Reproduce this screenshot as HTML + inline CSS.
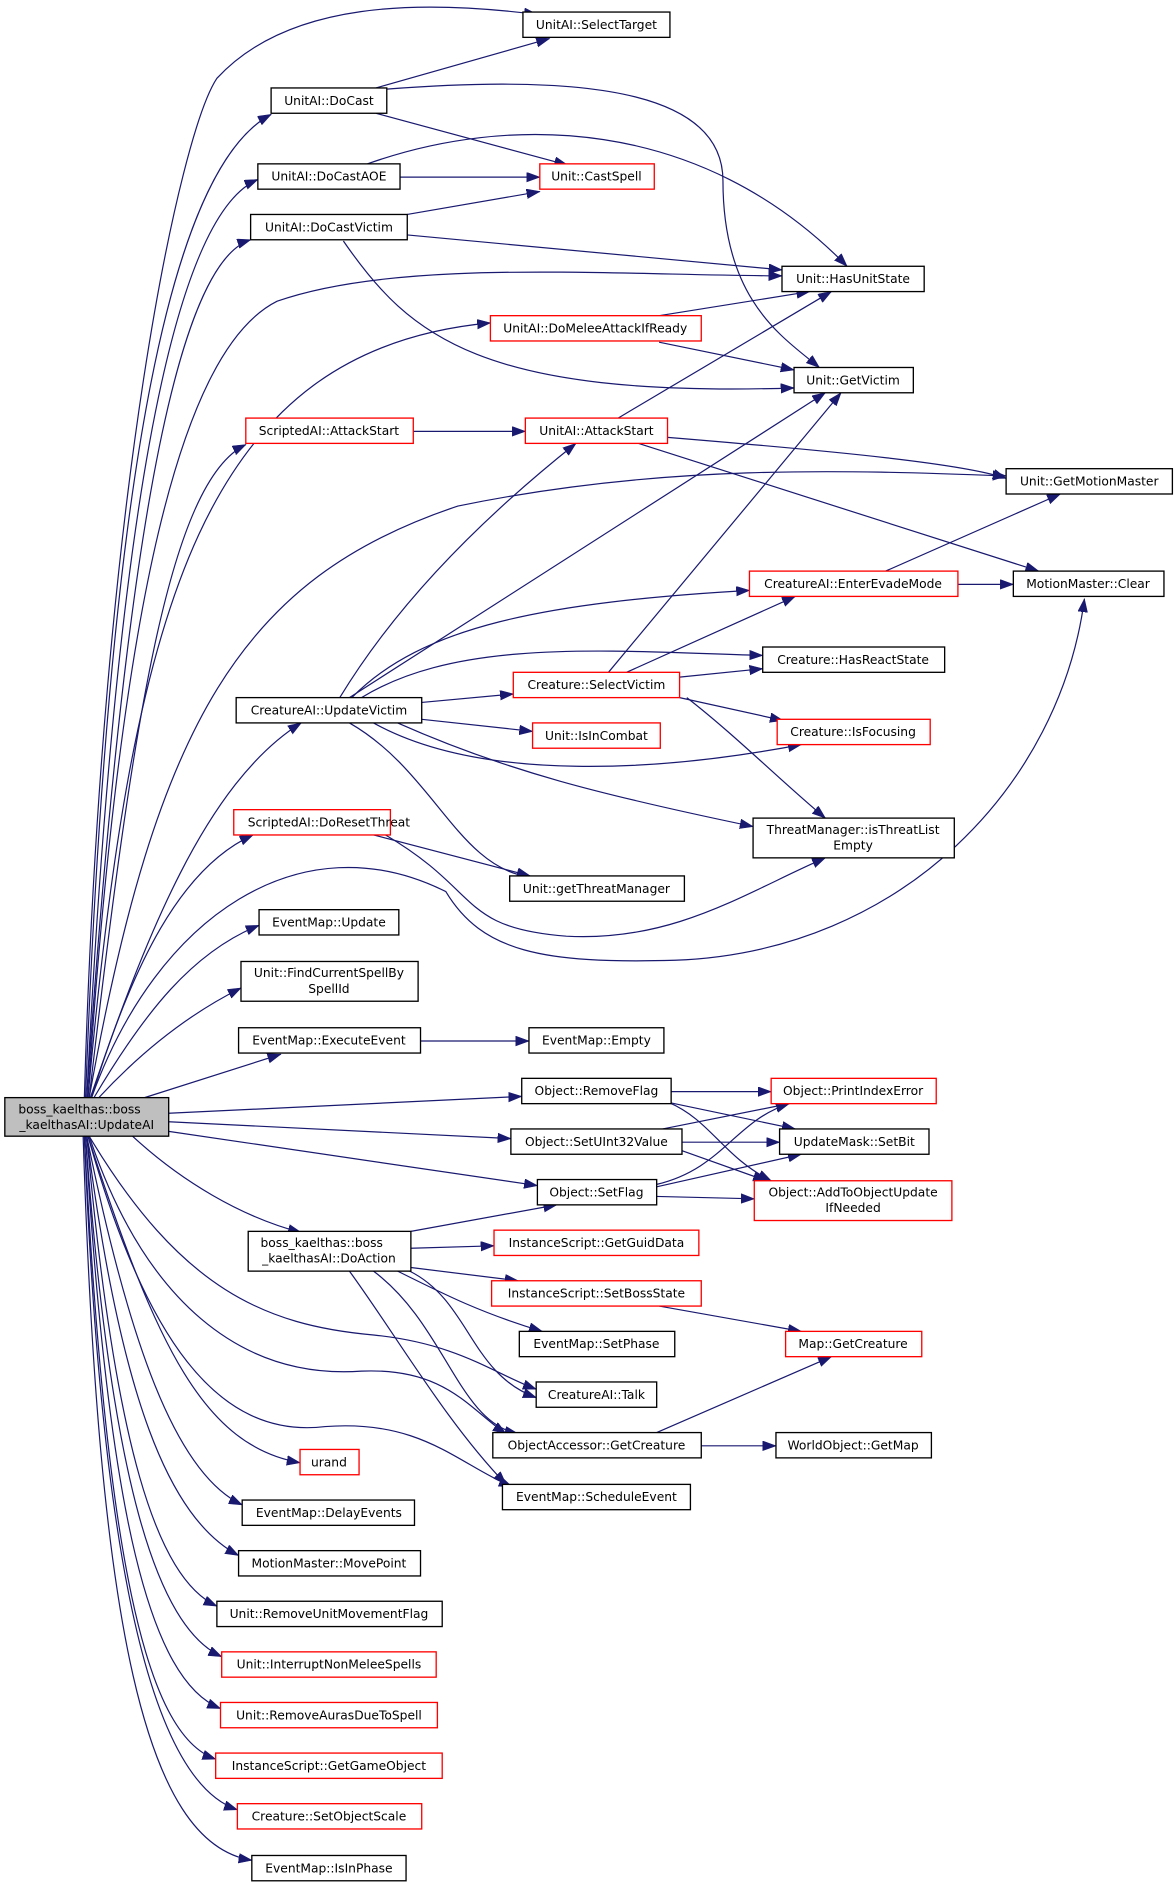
<!DOCTYPE html>
<html><head><meta charset="utf-8"><style>
html,body{margin:0;padding:0;background:#fff;}
svg{display:block;}
text{font-family:"DejaVu Sans","Liberation Sans",sans-serif;font-size:10.2px;fill:#000;text-anchor:middle;}
.n{fill:#fff;stroke:#000;stroke-width:1.1;}
.r{fill:#fff;stroke:#ff0000;stroke-width:1.1;}
.g{fill:#bfbfbf;stroke:#000;stroke-width:1.1;}
path{fill:none;stroke:#191970;stroke-width:1;marker-end:url(#a);}
</style></head><body>
<svg width="1176" height="1885" viewBox="0 0 976 1564.5" preserveAspectRatio="none" xmlns="http://www.w3.org/2000/svg">
<defs><marker id="a" markerUnits="userSpaceOnUse" markerWidth="12" markerHeight="10" refX="11" refY="4" orient="auto"><path d="M0,0 L11,4 L0,8 Z" style="fill:#191970;stroke:#191970;stroke-width:0.5;marker-end:none"/></marker></defs>

<!-- edges from UpdateAI -->
<path d="M70,911 C 85,400 150,110 180,65 C 240,0 350,0 446,12"/>
<path d="M71,911 C 90,400 140,140 225,95"/>
<path d="M72,911 C 95,450 140,180 214,149"/>
<path d="M72,911 C 100,500 140,220 208,199"/>
<path d="M73,911 C 100,500 150,290 230,250 C 330,215 500,228 649,229"/>
<path d="M73,911 C 110,500 170,290 407,268"/>
<path d="M74,911 C 110,600 140,400 204,369"/>
<path d="M74,911 C 130,600 200,480 380,420 C 550,385 700,390 835,395"/>
<path d="M75,911 C 120,780 170,650 250,600"/>
<path d="M76,911 C 110,800 150,720 210,693"/>
<path d="M76,911 C 130,760 250,680 370,740 C 400,790 450,800 560,797 C 750,790 880,650 900,497"/>
<path d="M78,911 C 120,840 160,790 215,768"/>
<path d="M82,911 C 120,870 160,840 200,820"/>
<path d="M120,911 L233,875"/>
<path d="M140,924 L433,910"/>
<path d="M140,931 L424,945"/>
<path d="M140,939 L446,984"/>
<path d="M110,943 C 150,980 200,1010 250,1023"/>
<path d="M74,943 C 150,1070 220,1100 310,1108 C 380,1115 410,1140 445,1153"/>
<path d="M74,943 C 120,1080 200,1145 300,1138 C 370,1135 390,1170 420,1190"/>
<path d="M73,943 C 130,1120 170,1200 249,1214"/>
<path d="M73,943 C 120,1110 180,1195 270,1184 C 350,1178 380,1215 425,1234"/>
<path d="M72,943 C 110,1130 150,1225 201,1249"/>
<path d="M72,943 C 100,1160 140,1260 198,1291"/>
<path d="M72,943 C 95,1200 130,1310 180,1333"/>
<path d="M71,943 C 92,1230 130,1350 184,1375"/>
<path d="M71,943 C 90,1260 125,1395 183,1418"/>
<path d="M70,943 C 88,1290 120,1440 179,1460"/>
<path d="M70,943 C 85,1320 130,1480 197,1502"/>
<path d="M69,943 C 82,1350 120,1530 209,1544"/>

<!-- other edges -->
<path d="M312,73 L456,32"/>
<path d="M312,94 L471,137"/>
<path d="M321,74 C 500,60 600,80 600,150 C 600,250 650,280 680,305"/>
<path d="M332,147 L448,147"/>
<path d="M305,136 C 420,95 580,95 703,221"/>
<path d="M338,178 L448,159"/>
<path d="M338,195 L649,224"/>
<path d="M285,200 C 340,280 400,330 659,322"/>
<path d="M547,262 L672,242"/>
<path d="M547,284 L659,307"/>
<path d="M343,358 L436,358"/>
<path d="M513,347 L690,242"/>
<path d="M554,363 C 700,375 800,385 835,397"/>
<path d="M530,368 L862,474"/>
<path d="M282,579 C 330,500 400,430 478,368"/>
<path d="M290,579 L685,326"/>
<path d="M292,579 C 350,520 450,500 622,490"/>
<path d="M300,579 C 380,530 500,540 633,544"/>
<path d="M350,583 L426,576"/>
<path d="M350,597 L442,607"/>
<path d="M310,600 C 400,650 550,640 665,618"/>
<path d="M330,600 C 420,640 500,660 625,686"/>
<path d="M290,600 C 360,640 380,720 440,728"/>
<path d="M505,558 L698,326"/>
<path d="M520,558 L660,495"/>
<path d="M564,562 L633,555"/>
<path d="M564,579 L650,598"/>
<path d="M570,579 C 610,610 650,650 685,679"/>
<path d="M735,474 L880,410"/>
<path d="M795,485 L841,485"/>
<path d="M310,693 L440,727"/>
<path d="M320,693 C 400,740 380,770 470,777 C 560,782 620,740 685,712"/>
<path d="M349,864 L439,864"/>
<path d="M557,906 L640,906"/>
<path d="M555,915 L660,937"/>
<path d="M555,915 C 590,930 600,960 640,980"/>
<path d="M550,937 L655,916"/>
<path d="M566,948 L647,948"/>
<path d="M566,955 L636,980"/>
<path d="M545,983 C 600,970 610,930 655,916"/>
<path d="M545,985 L665,958"/>
<path d="M545,993 L626,995"/>
<path d="M341,1022 L462,1000"/>
<path d="M341,1036 L410,1034"/>
<path d="M341,1052 L430,1063"/>
<path d="M330,1055 C 370,1075 400,1090 450,1105"/>
<path d="M340,1055 C 390,1080 390,1140 445,1160"/>
<path d="M310,1055 C 370,1100 380,1180 430,1190"/>
<path d="M290,1055 C 330,1110 370,1180 420,1232"/>
<path d="M547,1084 L665,1105"/>
<path d="M545,1189 L690,1126"/>
<path d="M582,1200 L644,1200"/>

<!-- nodes -->
<rect class="g" x="4" y="911" width="136" height="32"/><text x="66" y="924">boss_kaelthas::boss</text><text x="72" y="937">_kaelthasAI::UpdateAI</text>
<rect class="n" x="434" y="10" width="122" height="21"/><text x="495" y="24">UnitAI::SelectTarget</text>
<rect class="n" x="225" y="73" width="96" height="21"/><text x="273" y="87">UnitAI::DoCast</text>
<rect class="n" x="214" y="136" width="118" height="21"/><text x="273" y="150">UnitAI::DoCastAOE</text>
<rect class="r" x="448" y="136" width="95" height="21"/><text x="495" y="150">Unit::CastSpell</text>
<rect class="n" x="208" y="178" width="130" height="21"/><text x="273" y="192">UnitAI::DoCastVictim</text>
<rect class="n" x="649" y="221" width="118" height="21"/><text x="708" y="235">Unit::HasUnitState</text>
<rect class="r" x="407" y="262" width="175" height="21"/><text x="494" y="276">UnitAI::DoMeleeAttackIfReady</text>
<rect class="n" x="659" y="305" width="99" height="21"/><text x="708" y="319">Unit::GetVictim</text>
<rect class="r" x="204" y="347" width="139" height="21"/><text x="273" y="361">ScriptedAI::AttackStart</text>
<rect class="r" x="436" y="347" width="118" height="21"/><text x="495" y="361">UnitAI::AttackStart</text>
<rect class="n" x="835" y="389" width="138" height="21"/><text x="904" y="403">Unit::GetMotionMaster</text>
<rect class="r" x="622" y="474" width="173" height="21"/><text x="708" y="488">CreatureAI::EnterEvadeMode</text>
<rect class="n" x="841" y="474" width="125" height="21"/><text x="903" y="488">MotionMaster::Clear</text>
<rect class="n" x="633" y="537" width="151" height="21"/><text x="708" y="551">Creature::HasReactState</text>
<rect class="r" x="426" y="558" width="138" height="21"/><text x="495" y="572">Creature::SelectVictim</text>
<rect class="n" x="196" y="579" width="154" height="21"/><text x="273" y="593">CreatureAI::UpdateVictim</text>
<rect class="r" x="442" y="600" width="106" height="21"/><text x="495" y="614">Unit::IsInCombat</text>
<rect class="r" x="645" y="597" width="127" height="21"/><text x="708" y="611">Creature::IsFocusing</text>
<rect class="n" x="625" y="679" width="167" height="33"/><text x="708" y="692">ThreatManager::isThreatList</text><text x="708" y="705">Empty</text>
<rect class="r" x="194" y="672" width="130" height="21"/><text x="273" y="686">ScriptedAI::DoResetThreat</text>
<rect class="n" x="423" y="727" width="145" height="21"/><text x="495" y="741">Unit::getThreatManager</text>
<rect class="n" x="215" y="755" width="116" height="21"/><text x="273" y="769">EventMap::Update</text>
<rect class="n" x="200" y="798" width="147" height="33"/><text x="273" y="811">Unit::FindCurrentSpellBy</text><text x="273" y="824">SpellId</text>
<rect class="n" x="198" y="853" width="151" height="21"/><text x="273" y="867">EventMap::ExecuteEvent</text>
<rect class="n" x="439" y="853" width="112" height="21"/><text x="495" y="867">EventMap::Empty</text>
<rect class="n" x="433" y="895" width="124" height="21"/><text x="495" y="909">Object::RemoveFlag</text>
<rect class="r" x="640" y="895" width="137" height="21"/><text x="708" y="909">Object::PrintIndexError</text>
<rect class="n" x="424" y="937" width="142" height="21"/><text x="495" y="951">Object::SetUInt32Value</text>
<rect class="n" x="647" y="937" width="124" height="21"/><text x="709" y="951">UpdateMask::SetBit</text>
<rect class="n" x="446" y="979" width="99" height="21"/><text x="495" y="993">Object::SetFlag</text>
<rect class="r" x="626" y="980" width="164" height="33"/><text x="708" y="993">Object::AddToObjectUpdate</text><text x="708" y="1006">IfNeeded</text>
<rect class="n" x="206" y="1022" width="135" height="33"/><text x="267" y="1035">boss_kaelthas::boss</text><text x="273" y="1048">_kaelthasAI::DoAction</text>
<rect class="r" x="410" y="1021" width="170" height="21"/><text x="495" y="1035">InstanceScript::GetGuidData</text>
<rect class="r" x="408" y="1063" width="174" height="21"/><text x="495" y="1077">InstanceScript::SetBossState</text>
<rect class="n" x="431" y="1105" width="129" height="21"/><text x="495" y="1119">EventMap::SetPhase</text>
<rect class="r" x="652" y="1105" width="113" height="21"/><text x="708" y="1119">Map::GetCreature</text>
<rect class="n" x="445" y="1147" width="100" height="21"/><text x="495" y="1161">CreatureAI::Talk</text>
<rect class="n" x="409" y="1189" width="173" height="21"/><text x="495" y="1203">ObjectAccessor::GetCreature</text>
<rect class="n" x="644" y="1189" width="129" height="21"/><text x="708" y="1203">WorldObject::GetMap</text>
<rect class="r" x="249" y="1203" width="49" height="21"/><text x="273" y="1217">urand</text>
<rect class="n" x="417" y="1232" width="156" height="21"/><text x="495" y="1246">EventMap::ScheduleEvent</text>
<rect class="n" x="201" y="1245" width="143" height="21"/><text x="273" y="1259">EventMap::DelayEvents</text>
<rect class="n" x="198" y="1287" width="151" height="21"/><text x="273" y="1301">MotionMaster::MovePoint</text>
<rect class="n" x="180" y="1329" width="187" height="21"/><text x="273" y="1343">Unit::RemoveUnitMovementFlag</text>
<rect class="r" x="184" y="1371" width="178" height="21"/><text x="273" y="1385">Unit::InterruptNonMeleeSpells</text>
<rect class="r" x="183" y="1413" width="180" height="21"/><text x="273" y="1427">Unit::RemoveAurasDueToSpell</text>
<rect class="r" x="179" y="1455" width="188" height="21"/><text x="273" y="1469">InstanceScript::GetGameObject</text>
<rect class="r" x="197" y="1497" width="153" height="21"/><text x="273" y="1511">Creature::SetObjectScale</text>
<rect class="n" x="209" y="1540" width="128" height="21"/><text x="273" y="1554">EventMap::IsInPhase</text>
</svg>
</body></html>
